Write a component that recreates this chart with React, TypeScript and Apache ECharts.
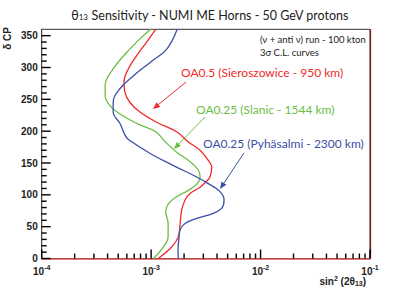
import React, { useEffect, useRef } from "react";
import * as echarts from "echarts";

// theta13 sensitivity curves: [sin^2(2theta13), deltaCP (deg)]
const redDeg = [0, 18, 34, 55, 76, 92, 102, 112, 120, 128, 144, 154, 170, 183, 199, 214, 230, 245, 261, 277, 298, 319, 340, 360];
const redVal = [1.16e-3, 1.54e-3, 1.77e-3, 1.84e-3, 1.9e-3, 2.04e-3, 2.27e-3, 2.8e-3, 3.15e-3, 3.45e-3, 3.58e-3, 3.33e-3, 2.8e-3, 2.19e-3, 1.71e-3, 1.125e-3, 0.79e-3, 0.64e-3, 0.577e-3, 0.565e-3, 0.62e-3, 0.74e-3, 0.91e-3, 1.1e-3];

const greenDeg = [0, 18, 34, 55, 73, 86, 97, 107, 118, 128, 139, 152, 167, 183, 199, 212, 227, 240, 256, 272, 298, 324, 345, 360];
const greenVal = [1.05e-3, 1.29e-3, 1.43e-3, 1.43e-3, 1.36e-3, 1.44e-3, 1.71e-3, 2.19e-3, 2.65e-3, 2.8e-3, 2.7e-3, 2.27e-3, 1.71e-3, 1.35e-3, 1.1e-3, 0.74e-3, 0.52e-3, 0.42e-3, 0.38e-3, 0.38e-3, 0.45e-3, 0.6e-3, 0.79e-3, 0.99e-3];

const blueDeg = [0, 15, 29, 45, 55, 63, 71, 79, 92, 105, 118, 128, 146, 165, 186, 193, 212, 230, 246, 267, 287, 308, 329, 360];
const blueVal = [1.77e-3, 1.76e-3, 1.79e-3, 1.84e-3, 2.04e-3, 2.61e-3, 3.7e-3, 4.42e-3, 4.64e-3, 4.26e-3, 3.3e-3, 2.61e-3, 1.6e-3, 0.98e-3, 0.63e-3, 0.58e-3, 0.52e-3, 0.45e-3, 0.45e-3, 0.52e-3, 0.69e-3, 0.98e-3, 1.39e-3, 1.73e-3];

const xMajorTicks = [1e-4, 1e-3, 1e-2, 1e-1];
const xMinorTicks = [2e-4, 3e-4, 4e-4, 5e-4, 6e-4, 7e-4, 8e-4, 9e-4, 2e-3, 3e-3, 4e-3, 5e-3, 6e-3, 7e-3, 8e-3, 9e-3, 2e-2, 3e-2, 4e-2, 5e-2, 6e-2, 7e-2, 8e-2, 9e-2];
const yMajorTicks = [0, 50, 100, 150, 200, 250, 300, 350];
const yMinorTicks = [10, 20, 30, 40, 60, 70, 80, 90, 110, 120, 130, 140, 160, 170, 180, 190, 210, 220, 230, 240, 260, 270, 280, 290, 310, 320, 330, 340];

const seriesNames = ["OA0.5 (Sieroszowice - 950 km)", "OA0.25 (Slanic - 1544 km)", "OA0.25 (Pyhäsalmi - 2300 km)"];
const colors = ["#ee2a2a", "#6cbd45", "#3a50a6"];

function arrow(x1: number, y1: number, x2: number, y2: number, color: string) {
  const ang = Math.atan2(y2 - y1, x2 - x1);
  const L = 7, W = 3;
  const bx = x2 - L * Math.cos(ang), by = y2 - L * Math.sin(ang);
  const px = -Math.sin(ang) * W, py = Math.cos(ang) * W;
  return {
    type: "group",
    children: [
      { type: "line", shape: { x1, y1, x2: bx, y2: by }, style: { stroke: color, lineWidth: 1 } },
      { type: "polygon", shape: { points: [[x2, y2], [bx + px, by + py], [bx - px, by - py]] }, style: { fill: color } },
    ],
  };
}

export default function App() {
  const ref = useRef<HTMLDivElement>(null);
  useEffect(() => {
    const chart = echarts.init(ref.current!, null, { renderer: "svg" });
    const lineSeries = (name: string, deg: number[], val: number[], color: string) => ({
      name,
      type: "line",
      data: deg.map((d, i) => [val[i], d]),
      smooth: 0.4,
      symbol: "none",
      lineStyle: { color, width: 1.3 },
      z: 3,
    });
    const tickFont = { fontFamily: "Liberation Sans", fontWeight: "bold", fontSize: 10, color: "#222" };
    const tickRender = (dir: "x" | "y", len: number) => (params: any, api: any) => {
      const p = api.coord([api.value(0), api.value(1)]);
      return dir === "x"
        ? { type: "line", shape: { x1: p[0], y1: p[1], x2: p[0], y2: p[1] - len }, style: { stroke: "#000", lineWidth: 1.4 } }
        : { type: "line", shape: { x1: p[0], y1: p[1], x2: p[0] + len, y2: p[1] }, style: { stroke: "#000", lineWidth: 1.4 } };
    };
    const tickSeries = (data: number[][], dir: "x" | "y", len: number) => ({
      type: "custom",
      data,
      renderItem: tickRender(dir, len),
      silent: true,
      clip: false,
      z: 5,
    });
    chart.setOption({
      animation: false,
      grid: { left: 41.7, top: 29.3, right: 41, bottom: 32.5, show: true, borderColor: "#333", borderWidth: 1, outerBoundsMode: "none" },
      xAxis: {
        type: "log",
        logBase: 10,
        min: 1e-4,
        max: 0.1,
        axisLine: { show: true, lineStyle: { color: "#d85555", width: 1.5 } },
        axisTick: { show: false },
        splitLine: { show: false },
        axisLabel: {
          margin: 5,
          formatter: (v: number) => "{b|10}{s|" + Math.round(Math.log10(v)) + "}",
          rich: {
            b: { ...tickFont, verticalAlign: "bottom" },
            s: { ...tickFont, fontSize: 7, verticalAlign: "top", padding: [0, 0, 6, 0] },
          },
        },
      },
      yAxis: {
        type: "value",
        min: 0,
        max: 360,
        interval: 50,
        axisLine: { show: true, lineStyle: { color: "#444" } },
        axisTick: { show: false },
        splitLine: { show: false },
        axisLabel: { ...tickFont, margin: 4, showMaxLabel: false },
      },
      series: [
        lineSeries(seriesNames[0], redDeg, redVal, colors[0]),
        lineSeries(seriesNames[1], greenDeg, greenVal, colors[1]),
        lineSeries(seriesNames[2], blueDeg, blueVal, colors[2]),
        {
          ...tickSeries(xMinorTicks.map((v) => [v, 0]), "x", 5),
          markLine: {
            silent: true,
            symbol: "none",
            label: { show: false },
            lineStyle: { color: "#8a1c1c", type: "solid", width: 1.3 },
            data: [{ xAxis: 0.1 }],
          },
        },
        tickSeries(xMajorTicks.map((v) => [v, 0]), "x", 9),
        tickSeries(yMinorTicks.map((v) => [1e-4, v]), "y", 5),
        tickSeries(yMajorTicks.map((v) => [1e-4, v]), "y", 9),
      ],
      graphic: [
        {
          type: "text",
          x: 210,
          y: 15,
          style: {
            text: "{a|θ}{b|13}{a| Sensitivity - NUMI ME Horns - 50 GeV protons}",
            align: "center",
            verticalAlign: "middle",
            rich: {
              a: { fontFamily: "Lato", fontSize: 12.5, fill: "#222" },
              b: { fontFamily: "Lato", fontSize: 8, fill: "#222", padding: [4, 0, 0, 0] },
            },
          },
        },
        {
          type: "text",
          x: 7,
          y: 38.5,
          rotation: Math.PI / 2,
          style: { text: "δ CP", align: "center", verticalAlign: "middle", fontFamily: "Liberation Sans", fontWeight: "bold", fontSize: 10, fill: "#222" },
        },
        {
          type: "text",
          x: 366,
          y: 281,
          style: {
            text: "{a|sin}{p|2}{a| (2θ}{q|13}{a|)}",
            align: "right",
            verticalAlign: "middle",
            rich: {
              a: { fontFamily: "Liberation Sans", fontWeight: "bold", fontSize: 10, fill: "#222" },
              p: { fontFamily: "Liberation Sans", fontWeight: "bold", fontSize: 7, fill: "#222", padding: [0, 0, 6, 0] },
              q: { fontFamily: "Liberation Sans", fontWeight: "bold", fontSize: 7, fill: "#222", padding: [5, 0, 0, 0] },
            },
          },
        },
        { type: "text", x: 260, y: 39, style: { text: "(ν + anti ν) run - 100 kton", verticalAlign: "middle", fontFamily: "Lato", fontSize: 9.5, fill: "#222" } },
        { type: "text", x: 260, y: 52.5, style: { text: "3σ C.L. curves", verticalAlign: "middle", fontFamily: "Lato", fontSize: 9.5, fill: "#222" } },
        { type: "text", x: 181, y: 72, style: { text: seriesNames[0], verticalAlign: "middle", fontFamily: "Lato", fontSize: 12, fill: colors[0] } },
        { type: "text", x: 196, y: 109, style: { text: seriesNames[1], verticalAlign: "middle", fontFamily: "Lato", fontSize: 12, fill: colors[1] } },
        { type: "text", x: 203, y: 143, style: { text: seriesNames[2], verticalAlign: "middle", fontFamily: "Lato", fontSize: 12, fill: colors[2] } },
        arrow(186, 82, 153, 109, colors[0]),
        arrow(205, 117, 174, 149, colors[1]),
        arrow(244, 153, 220, 189, colors[2]),
      ],
    });
    return () => chart.dispose();
  }, []);
  return <div ref={ref} style={{ position: "fixed", left: 0, top: 0, width: 411, height: 291, background: "#fff" }} />;
}
